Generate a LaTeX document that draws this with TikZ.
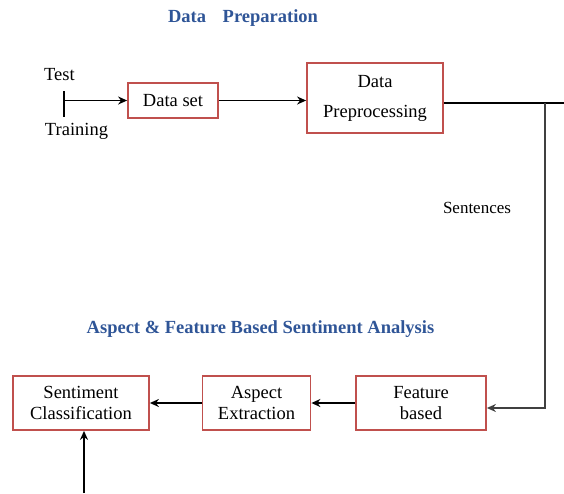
\documentclass[tikz,border=0pt]{standalone}
\usepackage{fontspec}
\setmainfont{Liberation Serif}
\usetikzlibrary{arrows.meta}
\definecolor{boxred}{HTML}{C0504D}
\definecolor{headblue}{HTML}{2F5597}
\tikzset{
  procbox/.style={draw=boxred,line width=1.8pt,inner sep=0pt,align=center,
    font=\fontsize{18.5}{21}\selectfont},
  heading/.style={text=headblue,font=\fontsize{18.5}{21}\selectfont\bfseries},
  lbl/.style={font=\fontsize{18.5}{21}\selectfont},
  flow/.style={->,>={Stealth[length=9pt,width=8pt]},line width=1.7pt}
}
\begin{document}
\begin{tikzpicture}[x=1pt,y=1pt]
      \useasboundingbox (0,0) rectangle (564,-493);
      % headings
      \node[heading] (prephead) at (243,-18) {Data\hspace{0.9em}Preparation};
      \node[heading] (asphead) at (260.5,-329) {Aspect \& Feature Based Sentiment Analysis};
      % data preparation
      \node[lbl] (test) at (59.5,-75) {Test};
      \node[lbl] (train) at (76.5,-131) {Training};
      \coordinate (ticktop) at (64,-91);
      \coordinate (tickbot) at (64,-117);
      \coordinate (src) at (64,-100.5);
      \draw[line width=1.2pt] (ticktop)--(tickbot);
      \node[procbox,minimum width=90,minimum height=35] (dataset) at (173,-100.5) {Data set};
      \node[procbox,minimum width=136,minimum height=70] (prep) at (375,-98)
        {\raisebox{2pt}{Data}\\[7pt]Preprocessing};
      \draw[flow] (src)--(dataset.west);
      \draw[flow] (dataset.east)--(prep.west |- dataset.east);
      % link to the analysis part
      \coordinate (edge) at (564,-103);
      \coordinate (turn) at (545,-103);
      \coordinate (down) at (545,-408);
      \draw[line width=1.2pt] (prep.east |- edge)--(edge);
      \node[font=\fontsize{17}{20}\selectfont] (sent) at (477,-208) {Sentences};
      % sentiment analysis
      \node[procbox,minimum width=136,minimum height=54] (classif) at (81,-403)
        {Sentiment\\Classification};
      \node[procbox,minimum width=108,minimum height=54] (aspect) at (256.5,-403)
        {Aspect\\Extraction};
      \node[procbox,minimum width=130,minimum height=54] (feature) at (421,-403)
        {Feature\\based};
      \draw[flow,draw=black!75,line width=1.3pt] (turn)--(down)--(feature.east |- down);
      \draw[flow] (feature.west)--(aspect.east);
      \draw[flow] (aspect.west)--(classif.east);
      \coordinate (in) at (84,-493);
      \draw[flow] (in)--(in |- classif.south);
    \end{tikzpicture}
\end{document}
